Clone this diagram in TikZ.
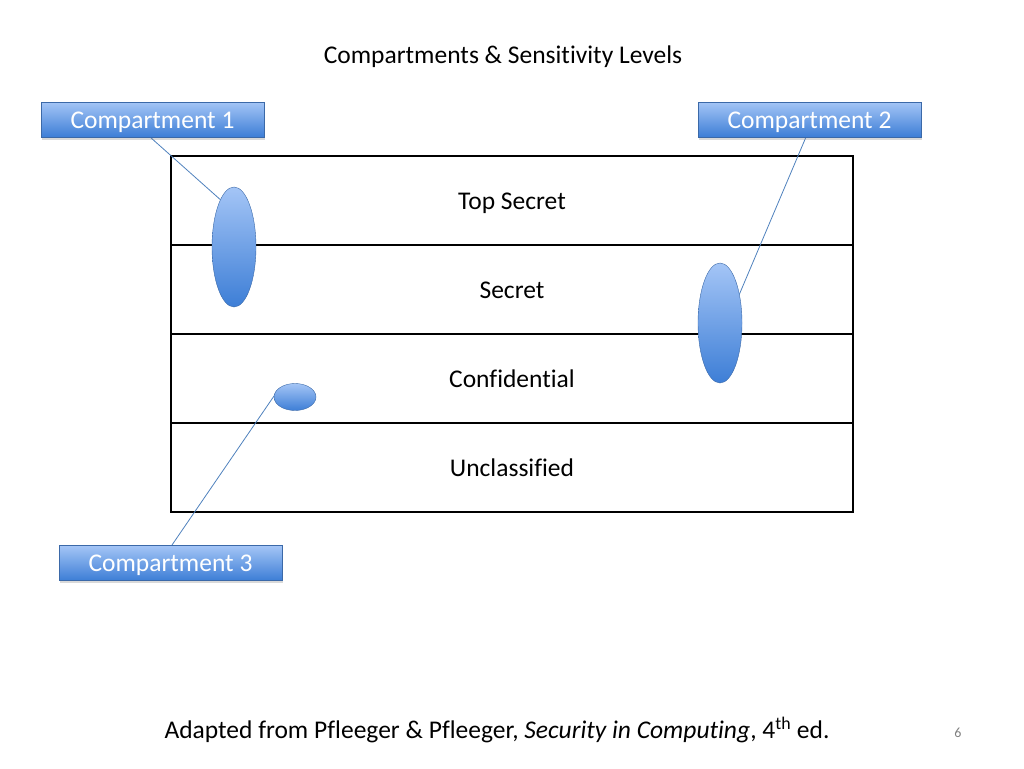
\documentclass[tikz,border=0pt]{standalone}
\usepackage{fontspec}
\setmainfont[Ligatures=NoCommon]{Carlito}
\usetikzlibrary{positioning}
\usetikzlibrary{shapes.geometric}
\usetikzlibrary{shadows}

\definecolor{blobtop}{HTML}{A4C5F6}
\definecolor{blobbot}{HTML}{3D7ED6}
\definecolor{blobedge}{HTML}{3B69A8}
\definecolor{leader}{HTML}{4F81BD}

\begin{document}
\begin{tikzpicture}[x=1pt,y=-1pt,
	level/.style={minimum width=682pt,minimum height=89pt,outer sep=0pt,inner sep=0pt,draw=black,line width=1.2pt,text height=17pt,text depth=0pt,font=\fontsize{25.5}{30}\selectfont},
	compbox/.style={minimum width=223pt,minimum height=35pt,outer sep=0pt,inner sep=0pt,draw=blobedge,top color=blobtop,bottom color=blobbot,text=white,text height=17pt,text depth=0pt,font=\fontsize{25.5}{30}\selectfont,drop shadow={shadow xshift=1pt,shadow yshift=-2.5pt,opacity=.3}},
	blob/.style={ellipse,inner sep=0pt,outer sep=0pt,draw=blobedge,top color=blobtop,bottom color=blobbot},
	leaderline/.style={draw=leader,line width=.8pt}]
	\useasboundingbox (0,0) rectangle (1024,768);

	\node [font=\fontsize{25.5}{30}\selectfont] at (503,57) (title) {Compartments \& Sensitivity Levels};

	% the four sensitivity levels
	\node [level] at (512,200.5) (top_secret) {Top Secret};
	\node [level,below=0pt of top_secret] (secret) {Secret};
	\node [level,below=0pt of secret] (confidential) {Confidential};
	\node [level,below=0pt of confidential] (unclassified) {Unclassified};

	% compartments
	\node [blob,minimum width=44pt,minimum height=120pt] at (234,247) (comp1_blob) {};
	\node [blob,minimum width=44pt,minimum height=120pt] at (720,323) (comp2_blob) {};
	\node [blob,minimum width=42pt,minimum height=27pt] at (295,397) (comp3_blob) {};

	\draw [leaderline] (150,137) coordinate (comp1_end) -- (comp1_blob.106);
	\draw [leaderline] (806,137) coordinate (comp2_end) -- (comp2_blob.56);
	\draw [leaderline] (172,545) coordinate (comp3_end) -- (comp3_blob.177);

	\node [compbox] at (152.5,119.5) (comp1_txt) {Compartment 1};
	\node [compbox] at (809.5,119.5) (comp2_txt) {Compartment 2};
	\node [compbox] at (170.5,563) (comp3_txt) {Compartment 3};

	\node [font=\fontsize{25.5}{30}\selectfont] at (497,730) (source) {Adapted from Pfleeger \& Pfleeger, \textit{Security in Computing}, 4\textsuperscript{th} ed.};
	\node [font=\fontsize{14}{16}\selectfont,text=gray] at (958,733) (page_no) {6};
\end{tikzpicture}
\end{document}
